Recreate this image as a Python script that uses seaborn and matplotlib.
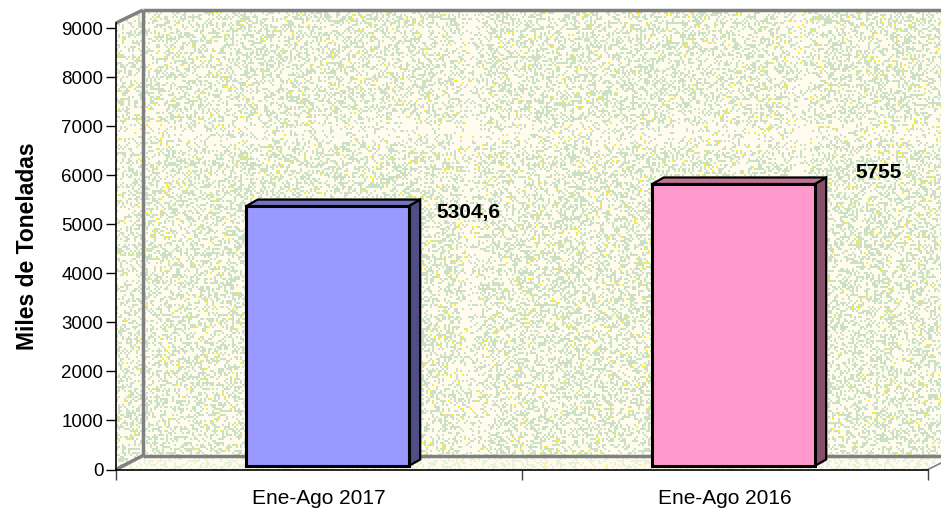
import numpy as np
import matplotlib
matplotlib.use("Agg")
import matplotlib.pyplot as plt
import seaborn as sns
from matplotlib.patches import Polygon
from matplotlib.transforms import Affine2D

periods = ["Ene-Ago 2017", "Ene-Ago 2016"]
tonnes = [5304.6, 5755]
value_labels = ["5304,6", "5755"]
y_ticks = [0, 1000, 2000, 3000, 4000, 5000, 6000, 7000, 8000, 9000]

FRONT = ["#9999FF", "#FF99CC"]
SIDE = ["#4F4F85", "#85506A"]
TOP = ["#7373C0", "#C07399"]
W, H = 941, 513


def wall_texture():
    # 2px cells of pale green on cream, yellow specks on top
    rng = np.random.default_rng(7)
    ch, cw = H // 2 + 1, W // 2 + 1
    yy, xx = np.mgrid[0:ch, 0:cw]
    dens = np.full((ch, cw), 0.38)
    for x0 in (234, 400):
        dens -= 0.2 * np.exp(-((xx - x0) / 6.0) ** 2)
    dens -= 0.2 * np.exp(-((yy - 66) / 6.0) ** 2)
    green = rng.random((ch, cw)) < dens
    yellow = rng.random((ch, cw)) < 0.016
    img = np.empty((ch, cw, 3))
    img[:] = (1.0, 0.985, 0.94)
    img[green] = (0.80, 0.88, 0.77)
    img[yellow] = (1.0, 0.95, 0.1)
    return img.repeat(2, axis=0).repeat(2, axis=1)[:H, :W]


sns.set_theme(style="white")
plt.rcParams["font.family"] = ["Liberation Sans", "DejaVu Sans"]

fig = plt.figure(figsize=(W / 100, H / 100), dpi=100, facecolor="white")

# walls and floor in pixel coordinates
bg = fig.add_axes([0, 0, 1, 1])
bg.set_xlim(0, W)
bg.set_ylim(H, 0)
bg.axis("off")
shell = Polygon([(116, 23), (143, 10), (945, 10), (945, 455), (928, 469.5), (116, 469.5)],
                transform=bg.transData, facecolor="none", edgecolor="none")
bg.add_patch(shell)
tex = bg.imshow(wall_texture(), extent=(0, W, H, 0), interpolation="nearest", aspect="auto")
tex.set_clip_path(shell)
# floor is paler than the walls
bg.add_patch(Polygon([(116, 469.5), (143, 455.5), (945, 455.5), (928, 469.5)],
                     facecolor="#FFFBF0", edgecolor="none", alpha=0.6))
grey = dict(color="#808080", lw=2.5, solid_capstyle="butt")
bg.plot([143, 143], [10, 455.5], **grey)
bg.plot([143, 945], [10, 10], **grey)
bg.plot([143, 945], [455.5, 455.5], **grey)
bg.plot([116, 143], [23, 10], **grey)
bg.plot([116, 143], [469.5, 455.5], **grey)
bg.plot([928, 945], [469.5, 461], color="#808080", lw=1.2)
bg.set_xlim(0, W)
bg.set_ylim(H, 0)

ax = fig.add_axes([116 / W, (H - 469.5) / H, (928 - 116) / W, 446.5 / H])
ax.patch.set_alpha(0)
sns.barplot(x=periods, y=tonnes, hue=periods, palette=FRONT, legend=False,
            width=0.4, edgecolor="black", linewidth=2.2, saturation=1, ax=ax)
ax.set_xlim(-0.5, 1.5)
ax.set_ylim(0, 9112)

# bars stand in the middle of the floor depth
shift = Affine2D().translate(8.5, 3.5)
depth_x, depth_y = 11.5, 6.5
for i, bar in enumerate(ax.patches):
    bar.set_transform(ax.transData + shift)
    x0, x1 = bar.get_x(), bar.get_x() + bar.get_width()
    v = bar.get_height()
    pts = (ax.transData + shift).transform([(x0, 0), (x1, 0), (x1, v), (x0, v)])
    (_, yb), (xr, _), (_, yt), (xl, _) = pts
    side = [(xr, yb), (xr + depth_x, yb + depth_y), (xr + depth_x, yt + depth_y), (xr, yt)]
    top = [(xl, yt), (xr, yt), (xr + depth_x, yt + depth_y), (xl + depth_x, yt + depth_y)]
    for poly, col in ((side, SIDE[i]), (top, TOP[i])):
        ax.add_patch(Polygon(poly, closed=True, transform=None, facecolor=col,
                             edgecolor="black", linewidth=1.6, joinstyle="miter",
                             zorder=bar.get_zorder() - 0.1, clip_on=False))

# labels sit off to the right of each bar
label_offsets = [(117, -3), (130, 15)]
for i, txt in enumerate(value_labels):
    ax.annotate(txt, (i, tonnes[i]), xytext=label_offsets[i], textcoords="offset pixels",
                ha="left", va="center", fontsize=15, fontweight="bold", color="black")

ax.set_yticks(y_ticks)
ax.set_xticks([0, 1])
ax.set_xticklabels(periods)
ax.set_xticks([-0.5, 0.5, 1.5], minor=True)
ax.tick_params(axis="x", which="major", length=0, pad=14, labelsize=15, labelcolor="black")
ax.tick_params(axis="x", which="minor", length=7, width=1, color="#404040", bottom=True)
ax.tick_params(axis="y", length=7, width=1, color="black", labelsize=13.5, labelcolor="black",
               pad=2, left=True)
ax.set_ylabel("Miles de Toneladas", fontsize=16.5, fontweight="bold", color="black", va="center")
ax.yaxis.set_label_coords((28 - 116) / (928 - 116), (469.5 - 246) / 446.5)

sns.despine(ax=ax, top=True, right=True)
for s in ("left", "bottom"):
    ax.spines[s].set_color("black")
    ax.spines[s].set_linewidth(1.2)

fig.savefig("out.png", dpi=100)
